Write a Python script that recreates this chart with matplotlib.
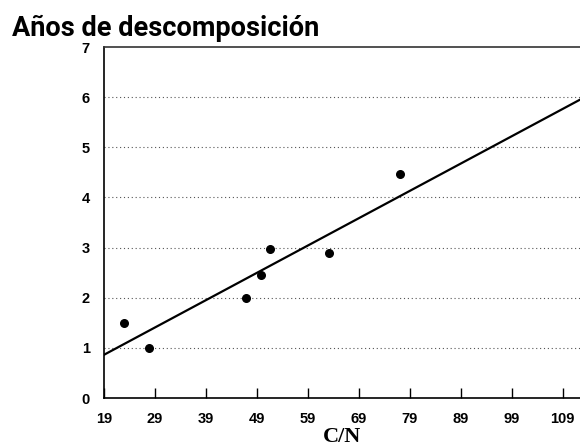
import matplotlib.pyplot as plt

# datos
cn = [22.9, 27.9, 46.8, 49.8, 51.5, 63.2, 77.0]
anos = [1.5, 1.0, 2.0, 2.45, 2.97, 2.9, 4.47]

# recta de tendencia (extremos leídos)
trend_x = [19, 112.4]
trend_y = [0.86, 5.95]

x_ticks = [19, 29, 39, 49, 59, 69, 79, 89, 99, 109]
y_ticks = [0, 1, 2, 3, 4, 5, 6, 7]

fig = plt.figure(figsize=(5.8, 4.46), dpi=100)
ax = fig.add_axes([0.179, 0.1076, 0.821, 0.787])

# líneas de cuadrícula punteadas
for y in y_ticks[1:-1]:
    ax.axhline(y, color='#555555', linestyle=(0, (1, 2.5)), linewidth=0.8, zorder=1)

ax.plot(trend_x, trend_y, color='black', linewidth=1.6, zorder=2)
ax.scatter(cn, anos, s=30, color='black', zorder=3)

ax.set_xlim(19, 112.4)
ax.set_ylim(0, 7)
ax.set_xticks(x_ticks)
ax.set_yticks(y_ticks)

tick_font = dict(family='Liberation Sans', weight='bold', size=10.5)
ax.set_xticklabels([str(v) for v in x_ticks], **tick_font)
ax.set_yticklabels([str(v) for v in y_ticks], **tick_font)
ax.tick_params(axis='x', direction='in', length=7, width=1, pad=10)
ax.tick_params(axis='y', length=0, pad=10)

ax.spines['right'].set_visible(False)
for s in ['left', 'bottom', 'top']:
    ax.spines[s].set_linewidth(1.2)
ax.spines['top'].set_color('#333333')

ax.set_xlabel('C/N', family='Liberation Serif', weight='bold', size=16, labelpad=1)
fig.text(0.02, 0.919, 'Años de descomposición', family='Roboto',
         weight='bold', size=19.5, ha='left', va='baseline')

plt.savefig('out.png', dpi=100)
